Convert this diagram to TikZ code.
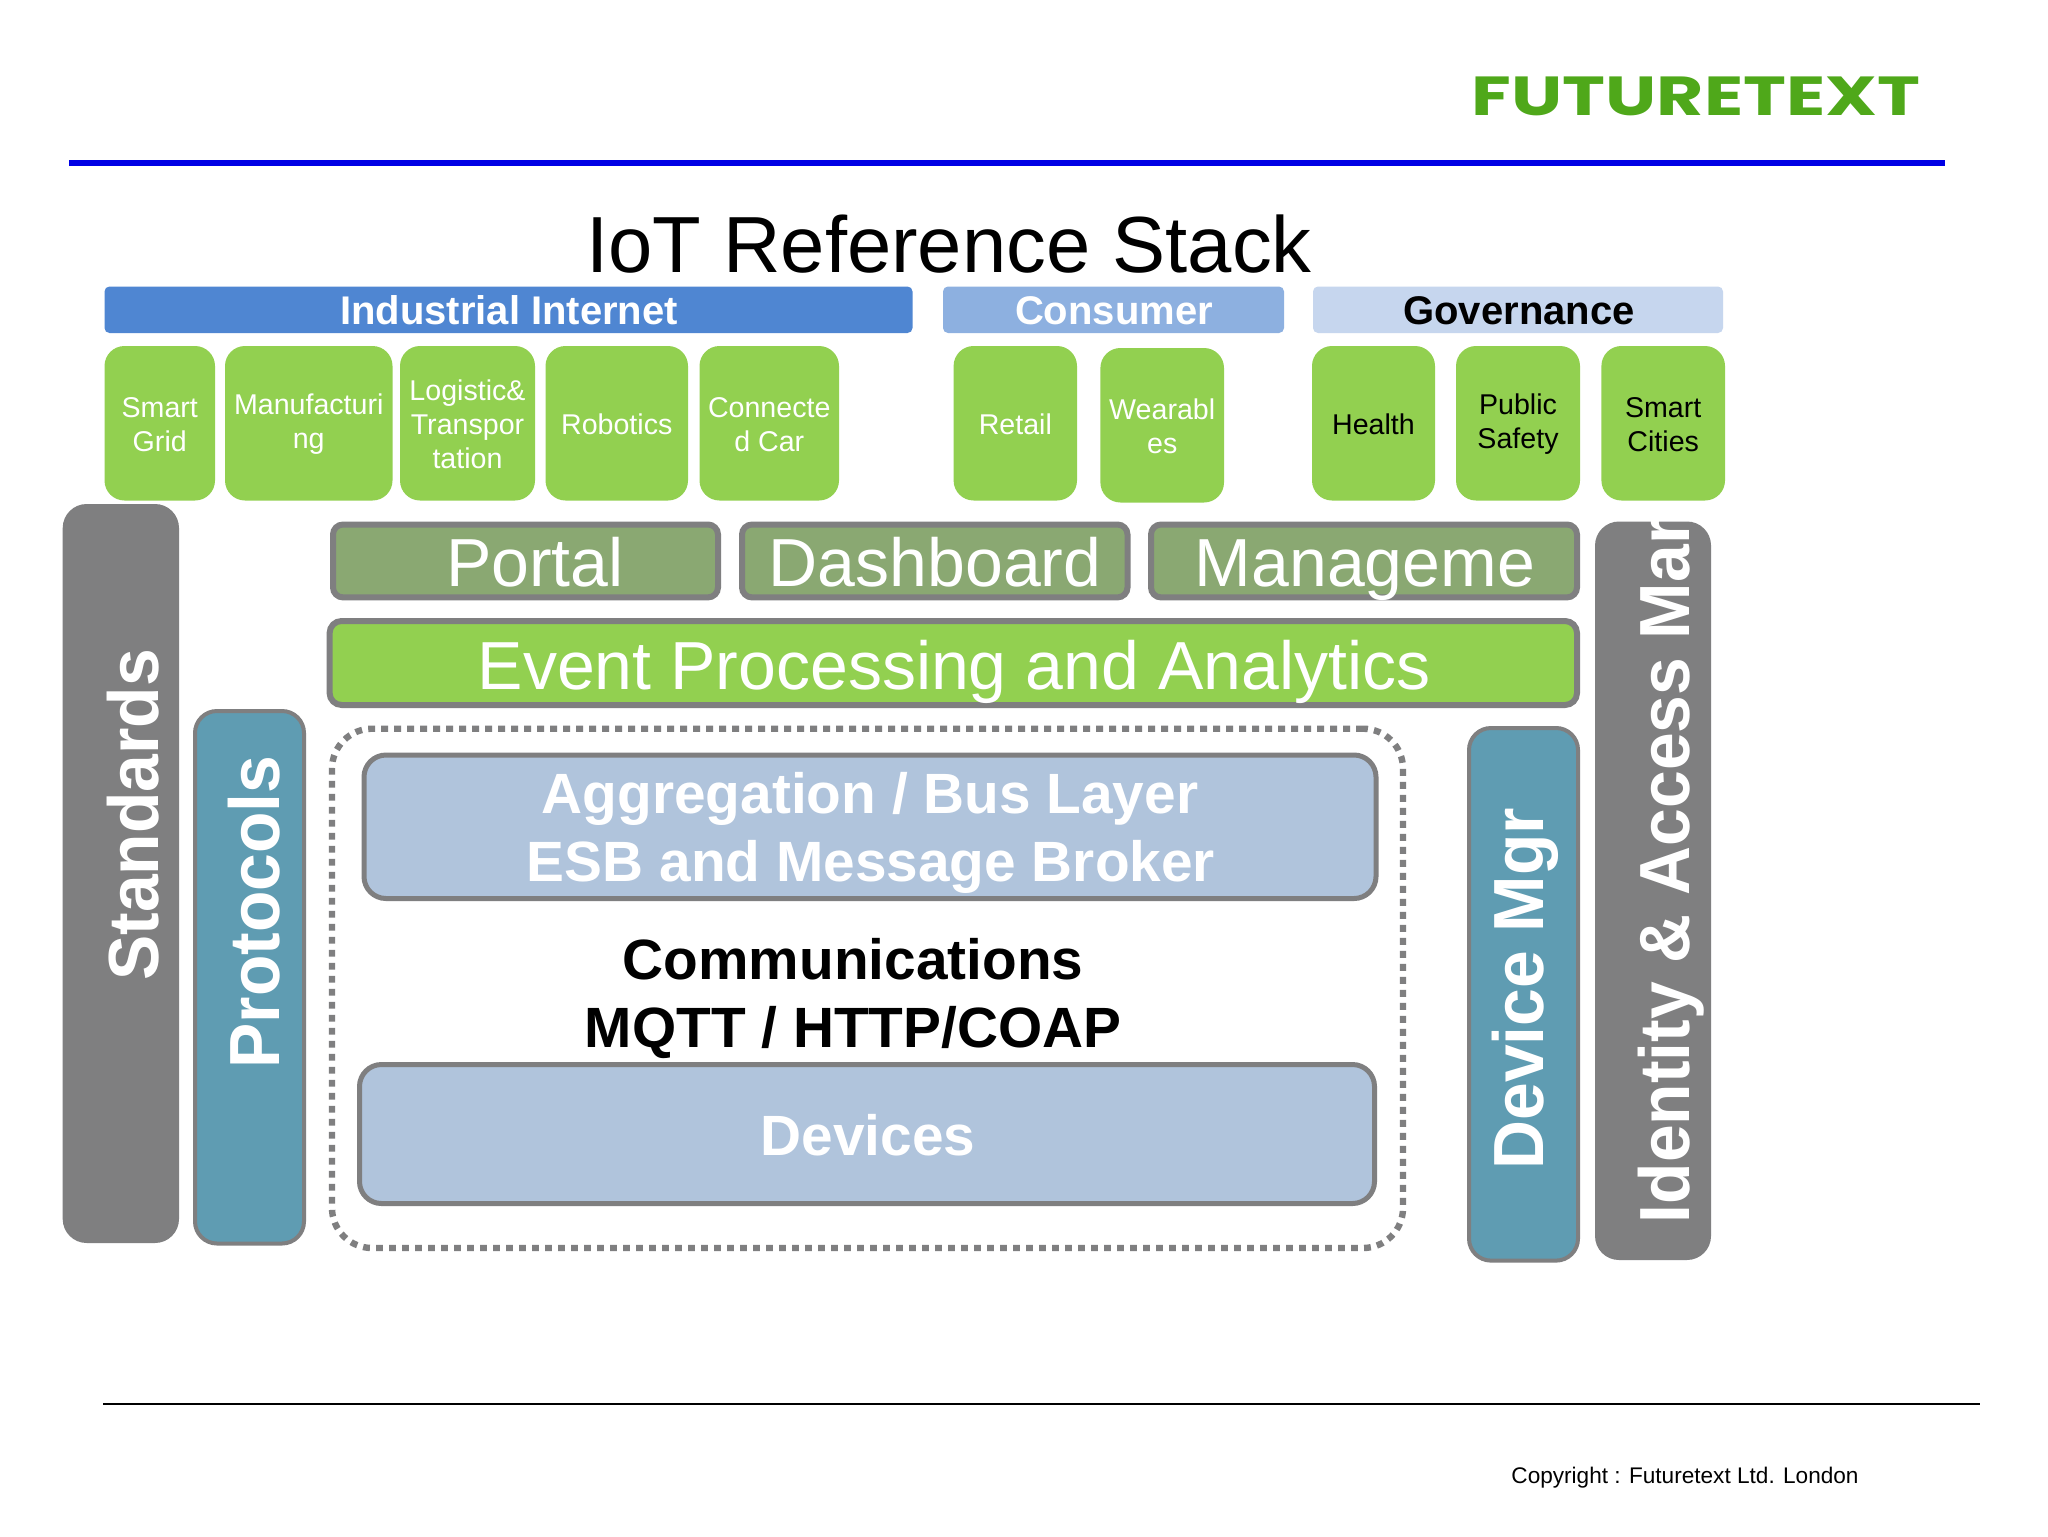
\documentclass[tikz,border=0pt]{standalone}
\usepackage{fontspec}
\setmainfont{Liberation Sans}
\newfontfamily\logofont{Poppins}
\definecolor{grn}{HTML}{92D050}
\definecolor{edgegray}{HTML}{7F7F80}
\definecolor{barA}{HTML}{4F86D2}
\definecolor{barB}{HTML}{8DB0E0}
\definecolor{barC}{HTML}{C6D6EE}
\definecolor{olive}{HTML}{8AA872}
\definecolor{teal1}{HTML}{5F9CB2}
\definecolor{steel}{HTML}{B0C4DC}
\definecolor{logogreen}{HTML}{4FA81A}
\newcommand{\fs}[1]{\fontsize{#1}{#1}\selectfont}
\tikzset{
  x=0.5pt,y=-0.5pt,
  every node/.style={inner sep=0pt,outer sep=0pt},
  barbox/.style={rounded corners=2.5pt,draw=none},
  barlabel/.style={anchor=base,font=\fs{20}\bfseries},
  tile/.style={fill=grn,rounded corners=10pt,draw=none},
  tilelabel/.style={align=center,font=\fontsize{14.3}{17}\selectfont,text=white},
  tiledark/.style={tilelabel,text=black},
  apptile/.style={fill=olive,draw=edgegray,line width=3pt,rounded corners=5pt},
  eventbox/.style={fill=grn,draw=edgegray,line width=3pt,rounded corners=6pt},
  biglabel/.style={anchor=base,text=white,font=\fs{34}},
  steelbox/.style={fill=steel,draw=edgegray,line width=2.5pt,rounded corners=11pt},
  stacklabel/.style={anchor=base,font=\fs{28.4}\bfseries},
  sidegray/.style={fill=edgegray,draw=none,rounded corners=12pt},
  sideteal/.style={fill=teal1,draw=edgegray,line width=2pt,rounded corners=11pt},
  sidelabel/.style={anchor=base,rotate=90,xscale=0.955,transform shape,text=white,font=\fs{35.5}\bfseries},
  dotbox/.style={draw=edgegray,line width=3.2pt,dash pattern=on 3.4pt off 3.1pt,rounded corners=20pt},
}
% name, style, x1, y1, x2, y2 (pixel coordinates)
\newcommand{\bx}[6]{\node[#2,minimum width={(#5-#3)*0.5pt},minimum height={(#6-#4)*0.5pt}] (#1) at ({(#3+#5)/2},{(#4+#6)/2}) {};}
% tile with its text: name, label style, x1, y1, x2, y2, text
\newcommand{\tl}[7]{\bx{#1}{tile}{#3}{#4}{#5}{#6}\node[#2] (#1t) at ({(#3+#5)/2},{(#4+#6)/2+1}) {#7};}
\begin{document}
\begin{tikzpicture}
\useasboundingbox (0,0) rectangle (2048,1536);
\fill[white] (0,0) rectangle (2048,1536);
% header
\node[anchor=base,text=logogreen,font=\fs{27.5}\logofont\bfseries,xscale=1.32,transform shape] (logo) at (1696,115) {FUTURETEXT};
\coordinate (bl) at (69,163); \coordinate (br) at (1945,163);
\draw[blue!90!black,line width=3pt] (bl) -- (br);
\node[anchor=base,font=\fs{39.8}] (title) at (949,272) {IoT Reference Stack};
% category bars
\bx{ind}{barbox,fill=barA}{104.5}{286.5}{912.5}{333}
\bx{con}{barbox,fill=barB}{943}{286.5}{1284}{333}
\bx{gov}{barbox,fill=barC}{1313}{286.5}{1723}{333}
\node[barlabel,text=white] (indt) at (509,324.5) {Industrial Internet};
\node[barlabel,text=white] (cont) at (1114,324.5) {Consumer};
\node[barlabel,text=black] (govt) at (1519,324.5) {Governance};
% tiles
\tl{t1}{tilelabel}{104.5}{346}{215}{500.5}{Smart\\Grid}
\tl{t2}{tilelabel}{225}{346}{392.5}{500.5}{Manufacturi\\ng}
\tl{t3}{tilelabel}{400}{346}{535}{500.5}{Logistic\&\\Transpor\\tation}
\tl{t4}{tilelabel}{545.5}{346}{688}{500.5}{Robotics}
\tl{t5}{tilelabel}{699.5}{346}{839}{500.5}{Connecte\\d Car}
\tl{t6}{tilelabel}{953.6}{346}{1077}{500.5}{Retail}
\tl{t7}{tilelabel}{1100.4}{348}{1224}{502.5}{Wearabl\\es}
\tl{t8}{tiledark}{1312}{346}{1435}{500.5}{Health}
\tl{t9}{tiledark}{1456}{346}{1580}{500.5}{Public\\Safety}
\tl{t10}{tiledark}{1601.4}{346}{1725}{500.5}{Smart\\Cities}
% side columns
\bx{std}{sidegray}{62.7}{504}{179}{1243}
\bx{pro}{sideteal}{195}{711}{304}{1243.5}
\bx{dev}{sideteal}{1469}{728}{1578}{1260.6}
\bx{idn}{sidegray}{1595}{521.5}{1711}{1260}
\node[sidelabel] (stdt) at (158,815) {Standards};
\node[sidelabel] (prot) at (279.5,912) {Protocols};
\node[sidelabel] (devt) at (1543,988.5) {Device Mgr};
\begin{scope}
\clip (1595,521.5) rectangle (1711,1260);
\node[sidelabel,anchor=base west] (idnt) at (1689,1223) {Identity \& Access Mar};
\end{scope}
% application row
\bx{por}{apptile}{333}{524.5}{718}{597.4}
\bx{das}{apptile}{742}{524.5}{1127.5}{597.4}
\bx{man}{apptile}{1151}{524.5}{1577}{597.4}
\node[biglabel] (port) at (535,586) {Portal};
\node[biglabel] (dast) at (935,586) {Dashboard};
\node[biglabel] (mant) at (1365,586) {Manageme};
\bx{evt}{eventbox}{329.6}{621}{1577}{705}
\node[biglabel] (evtt) at (954,689) {Event Processing and Analytics};
% dotted group
\bx{grp}{dotbox}{332}{728.7}{1403}{1248}
\bx{agg}{steelbox}{364}{755}{1376}{898.5}
\node[stacklabel,text=white] (agg1) at (870,813.5) {Aggregation / Bus Layer};
\node[stacklabel,text=white] (agg2) at (871,881.6) {ESB and Message Broker};
\node[stacklabel,text=black] (com1) at (853,979.5) {Communications};
\node[stacklabel,text=black] (com2) at (853,1047) {MQTT / HTTP/COAP};
\bx{dvc}{steelbox}{359.5}{1064.5}{1374.5}{1203.5}
\node[stacklabel,text=white] (dvct) at (868,1155) {Devices};
% footer
\coordinate (fl) at (103,1404); \coordinate (fr) at (1979.6,1404);
\draw[black,line width=1pt] (fl) -- (fr);
\node[anchor=base,font=\fs{11.3}] (copy) at (1685,1483) {Copyright : Futuretext Ltd. London};
\end{tikzpicture}
\end{document}
